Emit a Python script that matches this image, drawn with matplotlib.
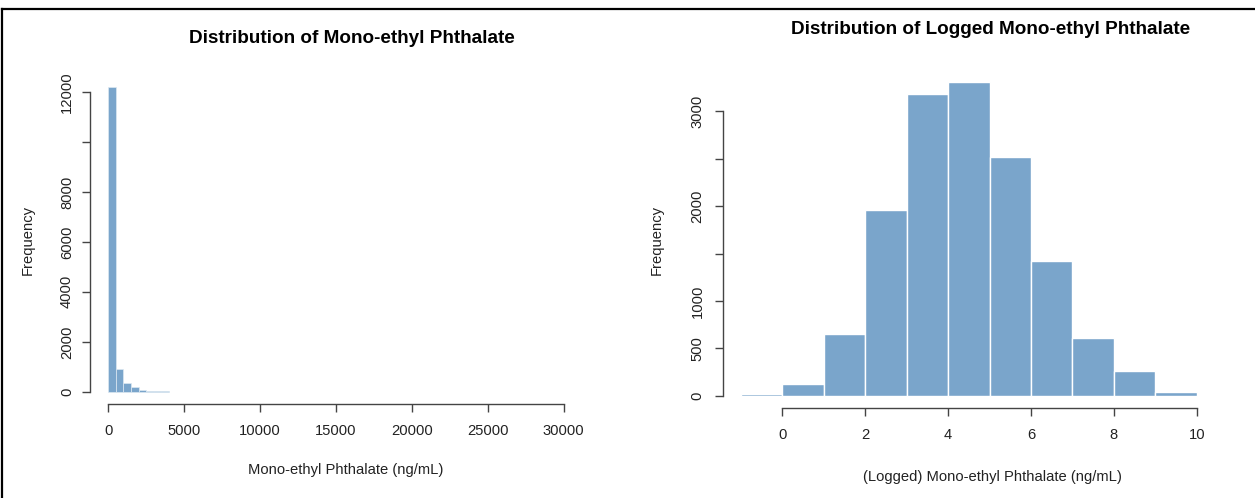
import matplotlib
matplotlib.use('Agg')
import matplotlib.pyplot as plt
from matplotlib.lines import Line2D
import numpy as np

plt.rcParams['font.family'] = ['Liberation Sans', 'DejaVu Sans']

# raw concentration histogram (bins of 500 ng/mL)
raw_edges = [0, 500, 1000, 1500, 2000, 2500, 3000, 3500, 4000]
raw_counts = [12190, 908, 347, 173, 80, 45, 40, 38]
raw_xticks = [0, 5000, 10000, 15000, 20000, 25000, 30000]
raw_yticks = [0, 2000, 4000, 6000, 8000, 10000, 12000]
raw_ylabels = ['0', '2000', '4000', '6000', '8000', '', '12000']

# logged concentration histogram (bins of 1)
log_edges = [-1, 0, 1, 2, 3, 4, 5, 6, 7, 8, 9, 10]
log_counts = [15, 125, 648, 1962, 3180, 3306, 2518, 1422, 609, 261, 42]
log_xticks = [0, 2, 4, 6, 8, 10]
log_yticks = [0, 500, 1000, 1500, 2000, 2500, 3000]
log_ylabels = ['0', '500', '1000', '', '2000', '', '3000']

bar_color = '#7aa5cb'
axis_color = '#444444'
W, H = 1255, 498

fig = plt.figure(figsize=(W / 100, H / 100), dpi=100)


def px_axes(x0, y0, x1, y1):
    return fig.add_axes([x0 / W, 1 - y1 / H, (x1 - x0) / W, (y1 - y0) / H])


def style(ax, xticks, yticks, ylabels, ypad):
    for s in ['top', 'right']:
        ax.spines[s].set_visible(False)
    for s in ['left', 'bottom']:
        ax.spines[s].set_color(axis_color)
        ax.spines[s].set_linewidth(1.0)
    ax.spines['left'].set_bounds(yticks[0], yticks[-1])
    ax.spines['bottom'].set_bounds(xticks[0], xticks[-1])
    ax.set_xticks(xticks)
    ax.set_xticklabels([str(t) for t in xticks])
    ax.set_yticks(yticks)
    ax.set_yticklabels(ylabels, rotation=90, va='center')
    ax.tick_params(axis='both', length=5.5, width=1.0, color=axis_color,
                   labelsize=10.6, labelcolor='#222222')
    ax.tick_params(axis='x', pad=9)
    ax.tick_params(axis='y', pad=ypad)


# left panel
ax1 = px_axes(90, 75, 582, 404)
ax1.bar(raw_edges[:-1], raw_counts, width=np.diff(raw_edges), align='edge',
        color=bar_color, edgecolor='#dde8f2', linewidth=0.5)
ax1.set_xlim(-1200, 31200)
ax1.set_ylim(-488, 12678)
style(ax1, raw_xticks, raw_yticks, raw_ylabels, 6)

# right panel
ax2 = px_axes(722.7, 69.7, 1215, 408.3)
ax2.bar(log_edges[:-1], log_counts, width=np.diff(log_edges), align='edge',
        color=bar_color, edgecolor='white', linewidth=1.0)
ax2.set_xlim(-1.44, 10.44)
ax2.set_ylim(-132, 3438)
style(ax2, log_xticks, log_yticks, log_ylabels, 7.5)

# titles and axis labels
fig.text(352 / W, 1 - 38 / H, 'Distribution of Mono-ethyl Phthalate',
         ha='center', va='center', fontsize=13.6, fontweight='bold')
fig.text(991 / W, 1 - 30 / H, 'Distribution of Logged Mono-ethyl Phthalate',
         ha='center', va='center', fontsize=13.6, fontweight='bold')
fig.text(346 / W, 1 - 470 / H, 'Mono-ethyl Phthalate (ng/mL)',
         ha='center', va='center', fontsize=10.6, color='#222222')
fig.text(992 / W, 1 - 477 / H, '(Logged) Mono-ethyl Phthalate (ng/mL)',
         ha='center', va='center', fontsize=10.6, color='#222222')
fig.text(28 / W, 1 - 240 / H, 'Frequency', rotation=90,
         ha='center', va='center', fontsize=10.6, color='#222222')
fig.text(657 / W, 1 - 240 / H, 'Frequency', rotation=90,
         ha='center', va='center', fontsize=10.6, color='#222222')

# outer frame (left and top edges)
fig.add_artist(Line2D([2 / W, 2 / W], [0, 1 - 9.5 / H], transform=fig.transFigure,
                      color='black', linewidth=1.6))
fig.add_artist(Line2D([2 / W, 1], [1 - 9.5 / H, 1 - 9.5 / H], transform=fig.transFigure,
                      color='black', linewidth=1.6))

fig.savefig('out.png', dpi=100)
